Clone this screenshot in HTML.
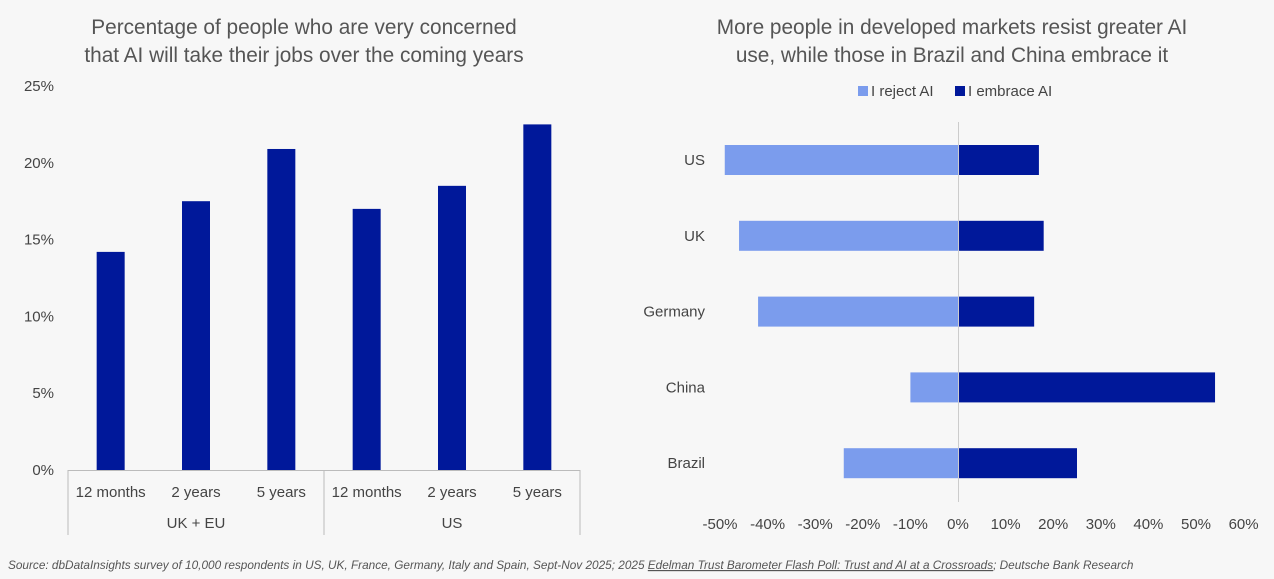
<!DOCTYPE html>
<html><head><meta charset="utf-8"><style>
body{margin:0;background:#f7f7f7;font-family:"Liberation Sans",sans-serif;}
svg{display:block}
</style></head><body>
<svg id="c" width="1274" height="579" viewBox="0 0 1274 579">
<rect width="1274" height="579" fill="#f7f7f7"/>
<text x="304" y="34" text-anchor="middle" font-size="20.8" fill="#555">Percentage of people who are very concerned</text>
<text x="304" y="62" text-anchor="middle" font-size="20.8" fill="#555">that AI will take their jobs over the coming years</text>
<text x="952" y="34" text-anchor="middle" font-size="20.8" fill="#555">More people in developed markets resist greater AI</text>
<text x="952" y="62" text-anchor="middle" font-size="20.8" fill="#555">use, while those in Brazil and China embrace it</text>
<g id="left"></g><g id="right"></g>
<text x="8" y="569" font-size="11.8" font-style="italic" fill="#555">Source: dbDataInsights survey of 10,000 respondents in US, UK, France, Germany, Italy and Spain, Sept-Nov 2025; 2025 <tspan text-decoration="underline">Edelman Trust Barometer Flash Poll: Trust and AI at a Crossroads</tspan>; Deutsche Bank Research</text>
</svg>
<script>
const leftCats=["12 months","2 years","5 years","12 months","2 years","5 years"];
const leftGroups=["UK + EU","US"];
const leftVals=[14.2,17.5,20.9,17.0,18.5,22.5];
const leftTicks=[0,5,10,15,20,25];
const rightCats=["US","UK","Germany","China","Brazil"];
const rejectVals=[-49,-46,-42,-10,-24];
const embraceVals=[17,18,16,54,25];
const rightTicks=[-50,-40,-30,-20,-10,0,10,20,30,40,50,60];
const NS="http://www.w3.org/2000/svg";
function mk(p,t,a,txt){const e=document.createElementNS(NS,t);for(const k in a)e.setAttribute(k,a[k]);if(txt!==undefined)e.textContent=txt;p.appendChild(e);return e;}
const DARK="#00189a",LIGHT="#7b9ced",TXT="#444";
// left
const L=document.getElementById('left');
const lx0=68,lx1=580,ly=v=>470-v*(384/25);
const step=(lx1-lx0)/leftCats.length;
leftTicks.forEach(t=>{const e=mk(L,'text',{x:54,y:ly(t)+5,'text-anchor':'end','font-size':15,fill:TXT},t+'%');
});
leftVals.forEach((v,i)=>{const cx=lx0+step*(i+0.5);
const r=mk(L,'rect',{x:cx-14,y:ly(v),width:28,height:ly(0)-ly(v),fill:DARK});

const t=mk(L,'text',{x:cx,y:497,'text-anchor':'middle','font-size':15,fill:TXT},leftCats[i]);
});
const ax=mk(L,'line',{x1:lx0,x2:lx1,y1:470.5,y2:470.5,stroke:'#bbb'});

[0,3,6].forEach(i=>{const x=lx0+step*i;const s=mk(L,'line',{x1:x,x2:x,y1:470,y2:535,stroke:'#bbb'});
});
leftGroups.forEach((g,i)=>{const t=mk(L,'text',{x:lx0+step*(i*3+1.5),y:528,'text-anchor':'middle','font-size':15,fill:TXT},g);
});
// right
const R=document.getElementById('right');
const rx=v=>958+v*4.76;
const rowY=i=>160+i*75.8;
rightTicks.forEach(t=>{const e=mk(R,'text',{x:rx(t),y:529,'text-anchor':'middle','font-size':15,fill:TXT},t+'%');
});
rightCats.forEach((c,i)=>{const y=rowY(i);
const a=mk(R,'rect',{x:rx(rejectVals[i]),y:y-15,width:rx(0)-rx(rejectVals[i]),height:30,fill:LIGHT});

const b=mk(R,'rect',{x:rx(0),y:y-15,width:rx(embraceVals[i])-rx(0),height:30,fill:DARK});

const t=mk(R,'text',{x:705,y:y+5,'text-anchor':'end','font-size':15,fill:TXT},c);
});
const z=mk(R,'line',{x1:958.5,x2:958.5,y1:122,y2:502,stroke:'#ccc'});

const l1=mk(R,'rect',{x:858,y:86,width:10,height:10,fill:LIGHT});

const l1t=mk(R,'text',{x:871,y:96,'font-size':15,fill:TXT},'I reject AI');

const l2=mk(R,'rect',{x:955,y:86,width:10,height:10,fill:DARK});

const l2t=mk(R,'text',{x:968,y:96,'font-size':15,fill:TXT},'I embrace AI');

</script>
</body></html>
